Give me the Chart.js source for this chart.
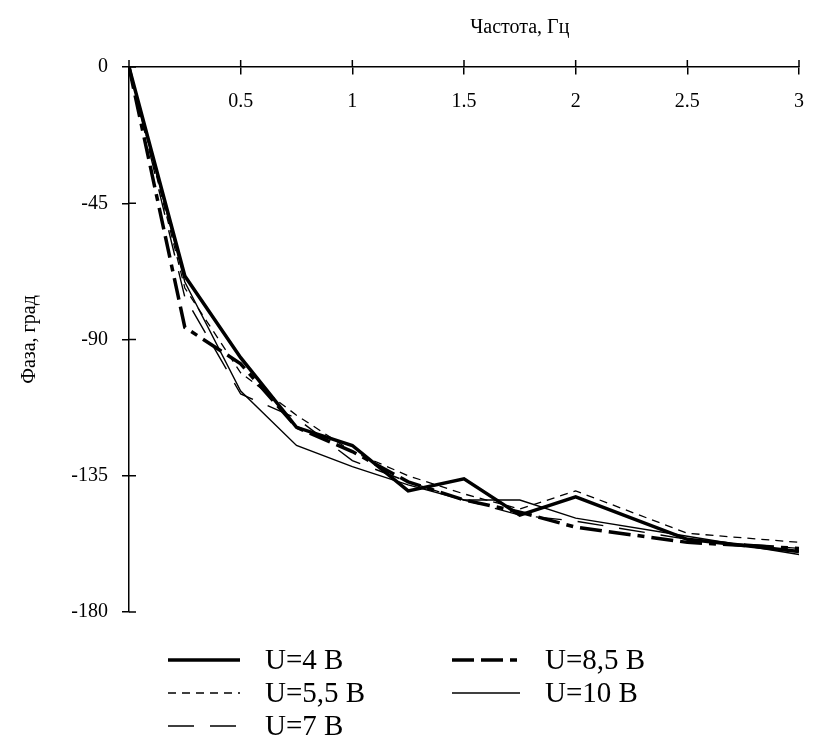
<!DOCTYPE html>
<html><head><meta charset="utf-8">
<script src="https://cdn.jsdelivr.net/npm/chart.js@4/dist/chart.umd.min.js"></script>
<style>html,body{margin:0;padding:0;background:#fff}canvas{display:block}</style>
</head><body>
<canvas id="c" width="814" height="750" style="width:814px;height:750px"></canvas>
<script>
// ---- data ----
const freq = [0, 0.25, 0.5, 0.75, 1, 1.25, 1.5, 1.75, 2, 2.5, 3];
const phaseU4  = [0, -69, -96, -119, -125, -140, -136, -148, -142, -156, -160];
const phaseU55 = [0, -73, -101, -115, -127, -135, -141, -146, -140, -154, -157];
const phaseU7  = [0, -76, -108, -116, -130, -137, -143, -148, -150, -156, -159];
const phaseU85 = [0, -86, -98, -119, -127, -137, -143, -147, -152, -157, -159];
const phaseU10 = [0, -71, -107, -125, -132, -138, -143, -143, -149, -155, -161];
const seriesLabels = ['U=4 В', 'U=5,5 В', 'U=7 В', 'U=8,5 В', 'U=10 В'];
const xTickValues = [0, 0.5, 1, 1.5, 2, 2.5, 3];
const xTickLabels = ['', '0.5', '1', '1.5', '2', '2.5', '3'];
const yTickValues = [-180, -135, -90, -45, 0];
const yTickLabels = ['-180', '-135', '-90', '-45', '0'];
const xTitle = 'Частота, Гц';
const yTitle = 'Фаза, град';

const FONT = 'Liberation Serif';
const pts = arr => freq.map((x, i) => ({x, y: arr[i]}));

const styles = [
  {borderWidth: 3.5, borderDash: []},
  {borderWidth: 1.3, borderDash: [8, 6]},
  {borderWidth: 1.4, borderDash: [26, 16]},
  {borderWidth: 3.5, borderDash: [22, 7, 22, 7, 7, 7]},
  {borderWidth: 1.4, borderDash: []}
];
const seriesData = [phaseU4, phaseU55, phaseU7, phaseU85, phaseU10];

const datasets = seriesData.map((arr, i) => ({
  label: seriesLabels[i],
  data: pts(arr),
  borderColor: '#000',
  backgroundColor: '#000',
  borderWidth: styles[i].borderWidth,
  borderDash: styles[i].borderDash,
  pointRadius: 0,
  tension: 0,
  fill: false
}));

const crossTicks = {
  id: 'crossTicks',
  afterDraw(chart) {
    const {ctx, scales: {x, y}} = chart;
    ctx.save();
    ctx.strokeStyle = '#000';
    ctx.lineWidth = 1.5;
    const y0 = y.getPixelForValue(0);
    x.ticks.forEach(t => {
      const px = x.getPixelForValue(t.value);
      ctx.beginPath(); ctx.moveTo(px, y0); ctx.lineTo(px, y0 - 7); ctx.stroke();
    });
    const x0 = x.getPixelForValue(0);
    y.ticks.forEach(t => {
      const py = y.getPixelForValue(t.value);
      ctx.beginPath(); ctx.moveTo(x0, py); ctx.lineTo(x0 + 7, py); ctx.stroke();
    });
    // x title
    ctx.fillStyle = '#000';
    ctx.font = '20px "' + FONT + '"';
    ctx.textAlign = 'center';
    ctx.textBaseline = 'middle';
    ctx.fillText(xTitle, x.getPixelForValue(1.75), chart.chartArea.top - 39);
    ctx.restore();
  }
};

const colLegend = {
  id: 'colLegend',
  afterDraw(chart, args, opts) {
    const ctx = chart.ctx;
    ctx.save();
    chart.data.datasets.forEach((ds, i) => {
      const col = Math.floor(i / opts.rows), row = i % opts.rows;
      const cy = opts.top + row * opts.rowH;
      ctx.strokeStyle = ds.borderColor;
      ctx.lineWidth = ds.borderWidth;
      ctx.setLineDash(ds.borderDash || []);
      ctx.beginPath();
      ctx.moveTo(opts.lineX[col], cy);
      ctx.lineTo(opts.lineX[col] + opts.lineLen[col], cy);
      ctx.stroke();
      ctx.setLineDash([]);
      ctx.fillStyle = '#000';
      ctx.font = opts.fontSize + 'px "' + FONT + '"';
      ctx.textAlign = 'left';
      ctx.textBaseline = 'middle';
      ctx.fillText(ds.label, opts.textX[col], cy + 1);
    });
    ctx.restore();
  }
};

new Chart(document.getElementById('c'), {
  type: 'line',
  data: {datasets},
  plugins: [crossTicks, colLegend],
  options: {
    responsive: false,
    animation: false,
    devicePixelRatio: 1,
    layout: {padding: {top: 67, right: 15, bottom: 138, left: 0}},
    plugins: {
      legend: {display: false},
      tooltip: {enabled: false},
      colLegend: {rows: 3, top: 660, rowH: 33, lineX: [168, 452], lineLen: [72, 68], textX: [265, 545], fontSize: 29}
    },
    scales: {
      x: {
        type: 'linear', min: 0, max: 3,
        position: {y: 0},
        afterBuildTicks: s => { s.ticks = xTickValues.map(v => ({value: v})); },
        afterFit: s => { s.paddingLeft = 0; s.paddingRight = 0; },
        ticks: {
          callback: (v, i) => xTickLabels[i],
          font: {family: FONT, size: 20}, color: '#000', padding: 16,
          maxRotation: 0, autoSkip: false
        },
        grid: {drawOnChartArea: false, tickLength: 7, color: '#000', lineWidth: 1.5},
        border: {color: '#000', width: 1.5}
      },
      y: {
        type: 'linear', min: -180, max: 0, position: 'left',
        afterFit: s => { s.width = 129; },
        afterBuildTicks: s => { s.ticks = yTickValues.map(v => ({value: v})); },
        ticks: {
          callback: (v, i) => yTickLabels[i],
          font: {family: FONT, size: 20}, color: '#000', padding: 14, autoSkip: false
        },
        grid: {drawOnChartArea: false, tickLength: 7, color: '#000', lineWidth: 1.5},
        border: {color: '#000', width: 1.5},
        title: {display: true, text: yTitle, color: '#000', font: {family: FONT, size: 20}, padding: {top: 18, bottom: 0}}
      }
    }
  }
});
</script>
</body></html>
